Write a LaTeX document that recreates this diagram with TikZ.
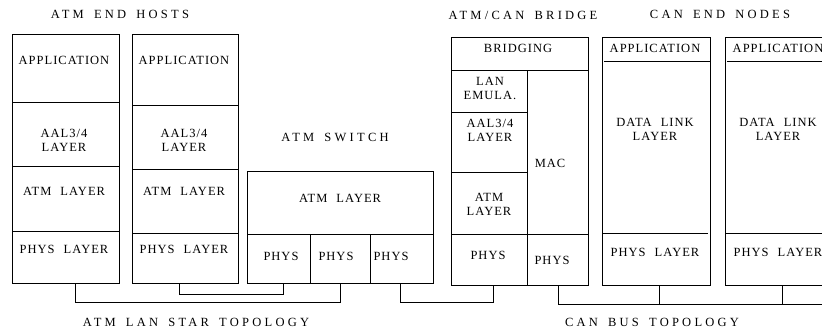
\documentclass[tikz,border=0pt]{standalone}
\usepackage{fontspec}
\setmainfont{Liberation Serif}
\newfontfamily\lblfont[LetterSpace=8, WordSpace=2.2]{Liberation Serif}
\newfontfamily\ttlfont[LetterSpace=26, WordSpace=1.6]{Liberation Serif}
\usetikzlibrary{positioning}

\tikzset{
  lbl/.style={font=\lblfont\fontsize{12.5}{14}\selectfont, align=center, inner sep=0pt},
  ttl/.style={font=\ttlfont\fontsize{12.5}{14}\selectfont, inner sep=0pt},
  stack/.style={line width=1pt},
  wire/.style={line width=1pt}
}

\begin{document}
\begin{tikzpicture}[x=1pt, y=-1pt]
  \useasboundingbox (0,0) rectangle (822,331);
  \clip (0,0) rectangle (822,331);

  % ATM end hosts
  \foreach \xa/\xb/\ya/\yb/\yc/\n in {12/119/103/167/232/1, 132/238/106/170/234/2} {
    \draw[stack] (\xa,35) rectangle (\xb,283);
    \draw[stack] (\xa,\ya) -- (\xb,\ya);
    \draw[stack] (\xa,\yb) -- (\xb,\yb);
    \draw[stack] (\xa,\yc) -- (\xb,\yc);
    \coordinate (host\n) at ({(\xa+\xb)/2},\yc);
  }
  \foreach \n/\x in {1/64, 2/184} {
    \node[lbl] (app\n) at (\x,60) {APPLICATION};
    \node[lbl] (aal\n) at (\x,140) {AAL3/4\\LAYER};
    \node[lbl] (atm\n) at (\x,191) {ATM LAYER};
    \node[lbl] (phys\n) at (\x,249) {PHYS LAYER};
  }
  \node[ttl] (hoststitle) at (120,14) {ATM END HOSTS};

  % ATM switch
  \draw[stack] (247,172) rectangle (433,283);
  \draw[stack] (247,235) -- (433,235);
  \draw[stack] (310,235) -- (310,283);
  \draw[stack] (370,235) -- (370,283);
  \node[ttl] (switchtitle) at (335,137) {ATM SWITCH};
  \node[lbl] (swatm) at (340,198) {ATM LAYER};
  \foreach \x/\n in {281/a, 336/b, 391/c} {
    \node[lbl] (swphys\n) at (\x,256) {PHYS};
  }

  % ATM/CAN bridge
  \draw[stack] (451,38) rectangle (588,71);
  \draw[stack] (451,71) rectangle (527,285);
  \draw[stack] (527,71) rectangle (588,285);
  \draw[stack] (451,113) -- (527,113);
  \draw[stack] (451,173) -- (527,173);
  \draw[stack] (451,235) -- (588,235);
  \node[ttl] (bridgetitle) at (523,15) {ATM/CAN BRIDGE};
  \node[lbl] (bridging) at (518,48) {BRIDGING};
  \node[lbl] (lanem) at (490,88) {LAN\\EMULA.};
  \node[lbl] (braal) at (490,130) {AAL3/4\\LAYER};
  \node[lbl] (bratm) at (489,204) {ATM\\LAYER};
  \node[lbl] (brphys) at (488,255) {PHYS};
  \node[lbl] (mac) at (550,163) {MAC};
  \node[lbl] (macphys) at (552,260) {PHYS};

  % CAN end nodes
  \foreach \xa/\n in {602/1, 725/2} {
    \draw[stack] (\xa,38) rectangle (\xa+108,285);
    \draw[stack] (\xa+2,62) -- (\xa+108,62);
    \draw[stack] (\xa,234) -- (\xa+106,234);
    \node[lbl] (canapp\n) at (\xa+53,48) {APPLICATION};
    \node[lbl] (candl\n) at (\xa+53,129) {DATA LINK\\LAYER};
    \node[lbl] (canphys\n) at (\xa+53,252) {PHYS LAYER};
  }
  \node[ttl] (cantitle) at (720,14) {CAN END NODES};

  % Star topology wiring
  \draw[wire] (75,283) -- (75,302) -- (340,302) -- (340,283);
  \draw[wire] (179,283) -- (179,294) -- (283,294) -- (283,283);
  \draw[wire] (400,283) -- (400,302) -- (493,302) -- (493,285);
  \node[ttl] (startitle) at (196,322) {ATM LAN STAR TOPOLOGY};

  % CAN bus wiring
  \coordinate (busend) at (822,304);
  \draw[wire] (558,285) -- (558,304) -- (busend);
  \draw[wire] (659,285) -- (659,304);
  \draw[wire] (782,285) -- (782,304);
  \node[ttl] (bustitle) at (652,322) {CAN BUS TOPOLOGY};
\end{tikzpicture}
\end{document}
